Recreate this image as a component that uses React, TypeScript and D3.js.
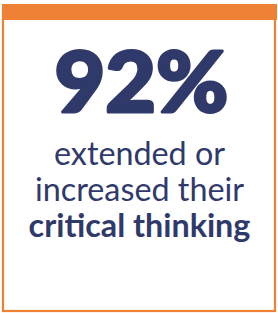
import * as d3 from 'd3';
import { useEffect, useRef } from 'react';

const statValue = ['92%'];
const labelLines = ['extended or', 'increased their', 'critical thinking'];
const labelBold = [false, false, true];

const W = 278;
const H = 313;
const navy = '#2f3a6b';
const orange = '#ee8133';

export default function App() {
  const ref = useRef<SVGSVGElement | null>(null);

  useEffect(() => {
    const svg = d3.select(ref.current);
    svg.selectAll('*').remove();

    // card border
    svg.append('rect')
      .attr('x', 3)
      .attr('y', 10)
      .attr('width', W - 6)
      .attr('height', H - 12)
      .attr('fill', '#fff')
      .attr('stroke', orange)
      .attr('stroke-width', 2.2);

    // top bar
    svg.append('rect')
      .attr('x', 2)
      .attr('y', 4)
      .attr('width', W - 3)
      .attr('height', 16)
      .attr('fill', orange);

    // big number, stroked a bit to look heavier
    svg.selectAll('.stat')
      .data(statValue)
      .enter()
      .append('text')
      .attr('class', 'stat')
      .attr('x', 141.5)
      .attr('y', 112)
      .attr('text-anchor', 'middle')
      .attr('font-family', 'Lato, sans-serif')
      .attr('font-weight', 900)
      .attr('font-size', 84)
      .attr('textLength', 174)
      .attr('lengthAdjust', 'spacingAndGlyphs')
      .attr('fill', navy)
      .attr('stroke', navy)
      .attr('stroke-width', 3)
      .attr('stroke-linejoin', 'round')
      .text((d) => d);

    const y = d3.scalePoint<number>()
      .domain(d3.range(labelLines.length))
      .range([165, 237]);

    svg.selectAll('.label')
      .data(labelLines)
      .enter()
      .append('text')
      .attr('class', 'label')
      .attr('x', 139.5)
      .attr('y', (d, i) => y(i) || 0)
      .attr('text-anchor', 'middle')
      .attr('font-family', 'Lato, sans-serif')
      .attr('font-weight', (d, i) => (labelBold[i] ? 700 : 400))
      .attr('font-size', 32.3)
      .attr('fill', navy)
      .text((d) => d);
  }, []);

  return (
    <div style={{ position: 'fixed', left: 0, top: 0 }}>
      <svg ref={ref} width={W} height={H} style={{ display: 'block' }} />
    </div>
  );
}
